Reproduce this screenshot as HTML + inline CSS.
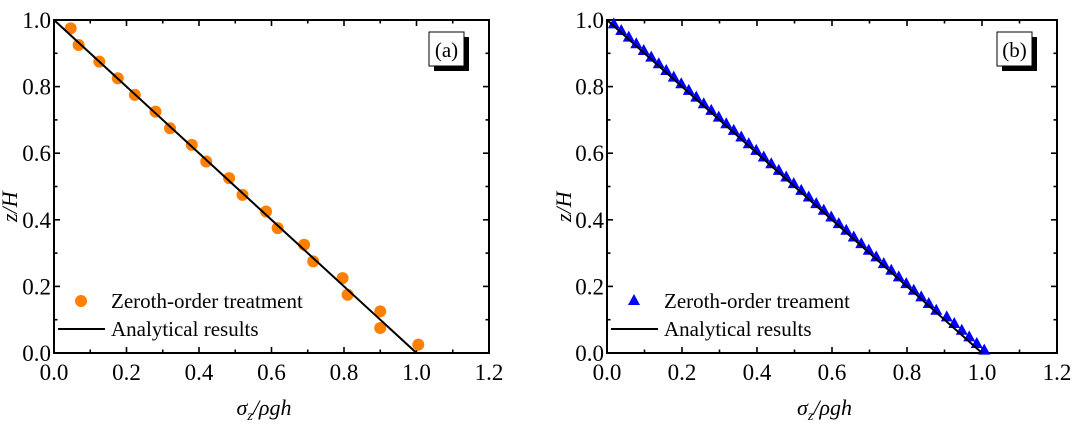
<!DOCTYPE html>
<html><head><meta charset="utf-8">
<style>html,body{margin:0;padding:0;background:#fff;}svg{display:block;}
svg text{font-family:"Liberation Serif","Times New Roman",serif !important;fill:#000;}</style></head>
<body>
<svg id="s" width="1080" height="428" viewBox="0 0 1080 428" xmlns="http://www.w3.org/2000/svg" font-family="Liberation Serif, serif"></svg>
<script>
const s=document.getElementById('s');let h='';
const F='font-family="Liberation Serif, serif"';
function panel(x0,x1,y0,y1,lab,pts,tri,legTxt){
 const sx=v=>x0+(x1-x0)*v/1.2, sy=v=>y0+(y1-y0)*v;
 for(let i=0;i<=12;i++){const x=sx(i*0.1),L=i%2==0?6:3.5;
  h+=`<line x1="${x}" y1="${y0}" x2="${x}" y2="${y0-L}" stroke="#000" stroke-width="1.6"/>`;
  h+=`<line x1="${x}" y1="${y1}" x2="${x}" y2="${y1+L}" stroke="#000" stroke-width="1.6"/>`;
  if(i%2==0)h+=`<text ${F} x="${x}" y="${y0+27}" font-size="23" text-anchor="middle">${(i/10).toFixed(1)}</text>`;}
 for(let i=0;i<=10;i++){const y=sy(i*0.1),L=i%2==0?6:3.5;
  h+=`<line x1="${x0}" y1="${y}" x2="${x0+L}" y2="${y}" stroke="#000" stroke-width="1.6"/>`;
  h+=`<line x1="${x1}" y1="${y}" x2="${x1-L}" y2="${y}" stroke="#000" stroke-width="1.6"/>`;
  if(i%2==0)h+=`<text ${F} x="${x0-3}" y="${y+8}" font-size="23" text-anchor="end">${(i/10).toFixed(1)}</text>`;}
 h+=`<rect x="${x0}" y="${y1}" width="${x1-x0}" height="${y0-y1}" fill="none" stroke="#000" stroke-width="2"/>`;
 pts.forEach(p=>{const x=sx(p[0]),y=sy(p[1]);
  if(tri)h+=`<polygon points="${x},${y-6} ${x-6},${y+5} ${x+6},${y+5}" fill="#0000ff"/>`;
  else h+=`<circle cx="${x}" cy="${y}" r="6" fill="#ff8000"/>`;});
 h+=`<line x1="${sx(0)}" y1="${sy(1)}" x2="${sx(1)}" y2="${sy(0)}" stroke="#000" stroke-width="2"/>`;
 const bx=x1-60,by=y1+12;
 h+=`<rect x="${bx+5}" y="${by+5}" width="35" height="34" fill="#000"/>`;
 h+=`<rect x="${bx}" y="${by}" width="35" height="34" fill="#fff" stroke="#000" stroke-width="1"/>`;
 h+=`<text ${F} x="${bx+17.5}" y="${by+25}" font-size="21" text-anchor="middle">${lab}</text>`;
 if(tri)h+=`<polygon points="${x0+27},${y0-59} ${x0+21},${y0-48} ${x0+33},${y0-48}" fill="#0000ff"/>`;
 else h+=`<circle cx="${x0+27}" cy="${y0-52}" r="6" fill="#ff8000"/>`;
 h+=`<text ${F} x="${x0+57}" y="${y0-45}" font-size="21">${legTxt}</text>`;
 h+=`<line x1="${x0+4}" y1="${y0-24}" x2="${x0+51}" y2="${y0-24}" stroke="#000" stroke-width="2"/>`;
 h+=`<text ${F} x="${x0+57}" y="${y0-17}" font-size="21">Analytical results</text>`;
 const cx=(x0+x1)/2;
 h+=`<text ${F} x="${cx-35}" y="${y0+62}" font-size="22" font-style="italic">σ<tspan font-size="14" dy="5">z</tspan><tspan dy="-5">/ρgh</tspan></text>`;
}
const A=[[0.046,0.975],[0.068,0.925],[0.125,0.875],[0.176,0.825],[0.223,0.775],[0.28,0.725],[0.32,0.675],[0.38,0.625],[0.42,0.575],[0.483,0.525],[0.52,0.475],[0.585,0.425],[0.617,0.375],[0.69,0.325],[0.715,0.275],[0.796,0.225],[0.81,0.175],[0.9,0.125],[0.9,0.075],[1.005,0.025]];
const B=[];for(let k=0;k<50;k++){const y=0.99-0.02*k;let x=1-y+0.008;if(y<0.12)x+=0.008;B.push([x,y]);}
panel(54,489,353,20,'(a)',A,false,'Zeroth-order treatment');
panel(607,1057,353,20,'(b)',B,true,'Zeroth-order treament');
h+=`<text ${F} transform="translate(17,222) rotate(-90)" font-size="22" font-style="italic">z/H</text>`;
h+=`<text ${F} transform="translate(571,222) rotate(-90)" font-size="22" font-style="italic">z/H</text>`;
s.innerHTML=h;
</script>
</body></html>
